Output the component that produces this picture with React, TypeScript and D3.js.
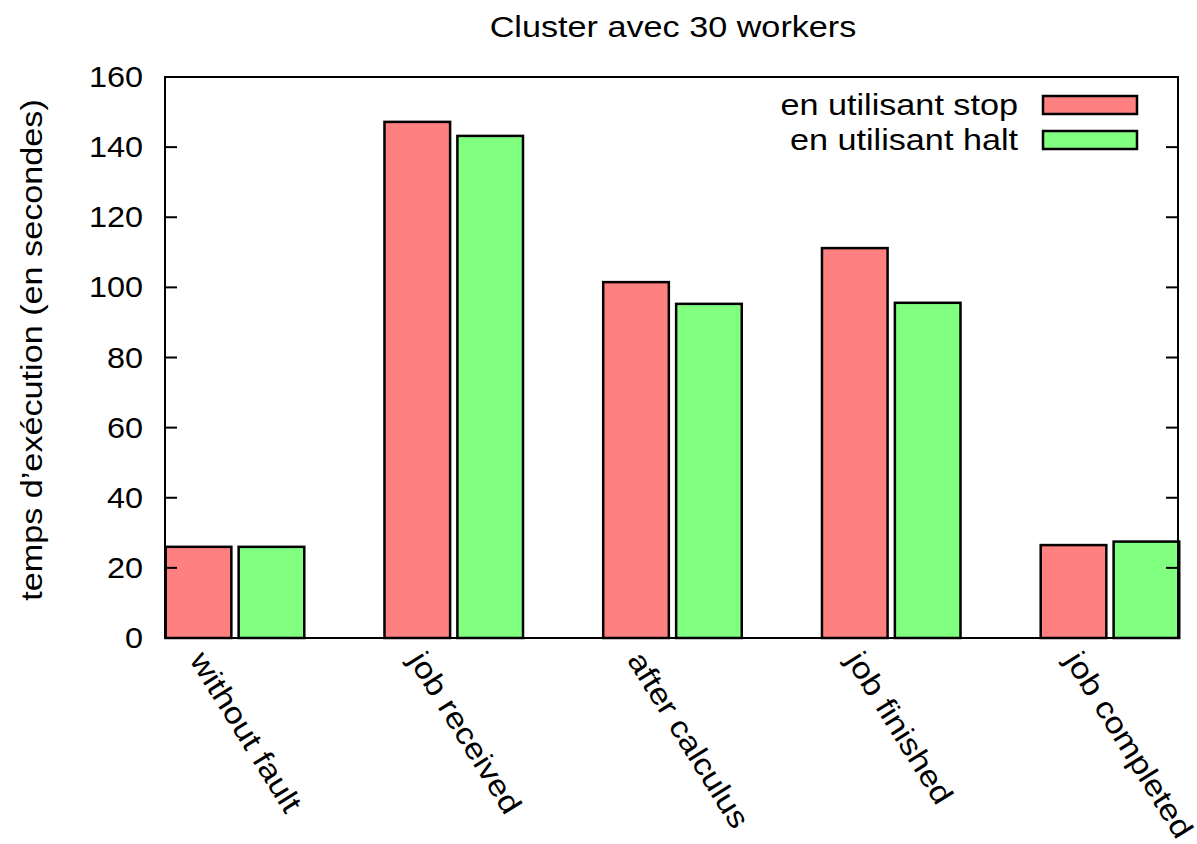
import React from "react";
import * as d3 from "d3";

const categories = ["without fault", "job received", "after calculus", "job finished", "job completed"];
const stopValues = [26.0, 147.2, 101.5, 111.2, 26.5];
const haltValues = [26.0, 143.2, 95.3, 95.6, 27.5];
const seriesNames = ["en utilisant stop", "en utilisant halt"];
const seriesColors = ["#ff8080", "#80ff80"];
const yTicks = [0, 20, 40, 60, 80, 100, 120, 140, 160];
const title = "Cluster avec 30 workers";
const yLabel = "temps d\u2019exécution (en secondes)";

const W = 1197;
const H = 844;
const plot = { left: 165, right: 1178, top: 77, bottom: 638 };
const FONT = "'Liberation Sans', Arial, Helvetica, sans-serif";
const FS = 30;
const SX = 1.14;
const SXD = 1.08;

export default function App() {
  const x = d3.scaleLinear().domain([-0.32, 4.311]).range([plot.left, plot.right]);
  const y = d3.scaleLinear().domain([0, 160]).range([plot.bottom, plot.top]);
  const series = [stopValues, haltValues];
  const offsets = [-1 / 6, 1 / 6];
  const bw = 0.3;
  const tickLen = 12;

  return (
    <svg width={W} height={H} style={{ position: "absolute", left: 0, top: 0, background: "#fff" }}
      fontFamily={FONT}>
      <rect x={0} y={0} width={W} height={H} fill="#fff" />
      {series.map((vals, s) =>
        vals.map((v, i) => {
          const x0 = x(i + offsets[s] - bw / 2);
          const x1 = x(i + offsets[s] + bw / 2);
          return (
            <rect key={`b${s}-${i}`} x={x0} y={y(v)} width={x1 - x0} height={y(0) - y(v)}
              fill={seriesColors[s]} stroke="#000" strokeWidth={2.5} />
          );
        })
      )}
      {yTicks.map((t) => (
        <g key={`t${t}`}>
          {t > 0 && t < 160 && (
            <>
              <line x1={plot.left} x2={plot.left + tickLen} y1={y(t)} y2={y(t)} stroke="#000" strokeWidth={2} />
              <line x1={plot.right} x2={plot.right - tickLen} y1={y(t)} y2={y(t)} stroke="#000" strokeWidth={2} />
            </>
          )}
          <text transform={`translate(143,${y(t)}) scale(${SXD},1)`} textAnchor="end" dominantBaseline="central" fontSize={FS}>{t}</text>
        </g>
      ))}
      <rect x={plot.left} y={plot.top} width={plot.right - plot.left} height={plot.bottom - plot.top}
        fill="none" stroke="#000" strokeWidth={2} />
      {categories.map((c, i) => (
        <text key={`c${i}`} transform={`translate(${x(i) - 46},${660}) rotate(58) scale(${SX},1)`} fontSize={FS}>{c}</text>
      ))}
      <text transform={`translate(673,37) scale(${SX},1)`} textAnchor="middle" fontSize={FS}>{title}</text>
      <text transform={`translate(42,350) rotate(-90) scale(${SX},1)`} textAnchor="middle" fontSize={FS}>{yLabel}</text>
      {seriesNames.map((n, s) => (
        <g key={`l${s}`}>
          <text transform={`translate(1018,${105 + s * 35}) scale(${SX},1)`} textAnchor="end" dominantBaseline="central" fontSize={FS}>{n}</text>
          <rect x={1043} y={96 + s * 35} width={94} height={18} fill={seriesColors[s]} stroke="#000" strokeWidth={2.5} />
        </g>
      ))}
    </svg>
  );
}
